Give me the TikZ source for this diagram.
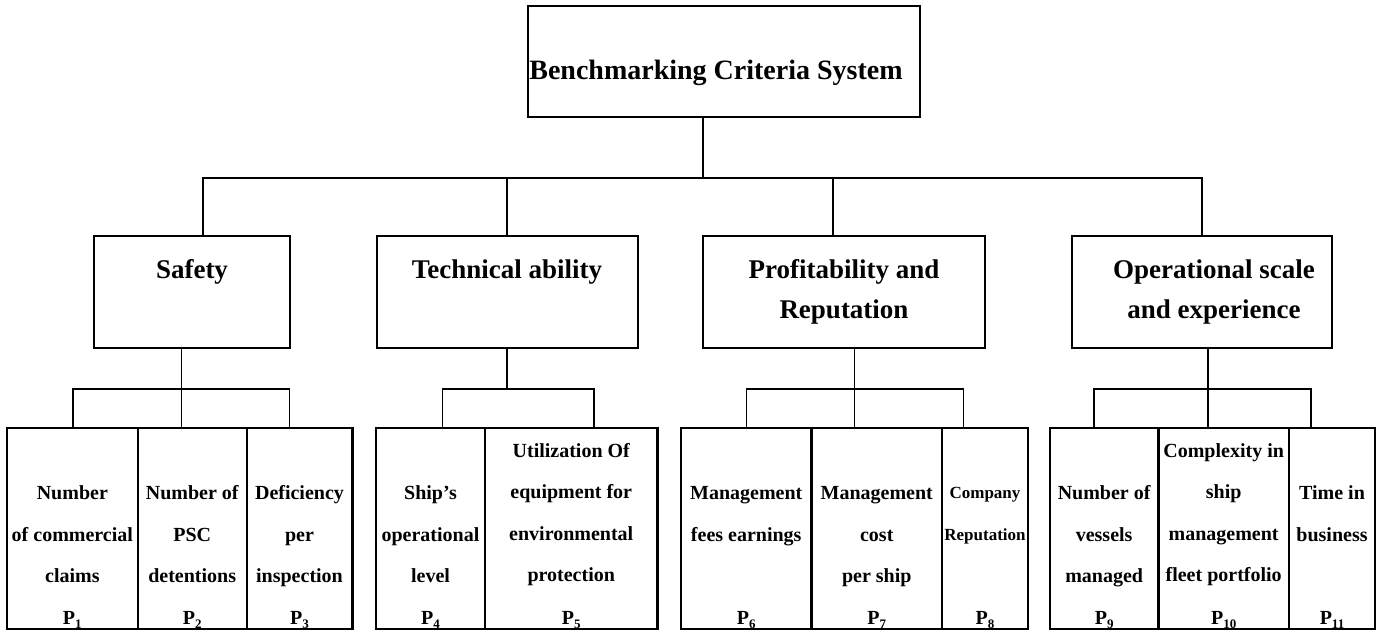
\documentclass[tikz,border=0pt]{standalone}
\usepackage{fontspec}
\setmainfont{Liberation Serif}
% stacked lines, the first line's baseline is the node's base
\newcommand{\lines}[1]{\begin{tabular}[t]{@{}c@{}}#1\end{tabular}}
% criterion label P with a lowered index
\newcommand{\pidx}[1]{P\raisebox{-0.22em}{\fontsize{13}{13}\selectfont #1}}
\begin{document}
\begin{tikzpicture}[x=1pt,y=-1pt,
  box/.style={draw, line width=2pt, inner sep=0pt, outer sep=0pt, anchor=north west},
  cell/.style={draw, line width=2.4pt, inner sep=0pt, outer sep=0pt, anchor=north west, minimum height=201pt},
  wire/.style={line width=1.8pt},
  txt/.style={inner sep=0pt, anchor=base},
  roottxt/.style={txt, font=\bfseries\fontsize{28}{34}\selectfont},
  subtxt/.style={txt, font=\bfseries\fontsize{27}{40}\selectfont},
  leaftxt/.style={txt, font=\bfseries\fontsize{20}{41.5}\selectfont},
  smalltxt/.style={txt, font=\bfseries\fontsize{17}{41.7}\selectfont}]
\useasboundingbox (0,0) rectangle (1382,630);

% top level
\node[box, minimum width=392pt, minimum height=111.6pt] (root) at (528,5.7) {};
\node[roottxt] (rootlabel) at (716,79) {Benchmarking Criteria System};

% criteria groups
\node[box, minimum width=196pt,   minimum height=111.5pt] (safety) at (94,236) {};
\node[box, minimum width=260.5pt, minimum height=111.5pt] (tech)   at (377,236) {};
\node[box, minimum width=282.5pt, minimum height=111.5pt] (prof)   at (702.5,236) {};
\node[box, minimum width=260pt,   minimum height=111.5pt] (oper)   at (1072,236) {};
\node[subtxt] (safetylabel) at (192,278) {Safety};
\node[subtxt] (techlabel)   at (507,278) {Technical ability};
\node[subtxt] (proflabel)   at (844,278) {\lines{Profitability and\\Reputation}};
\node[subtxt] (operlabel)   at (1214,278) {\lines{Operational scale\\and experience}};

% sub-criteria cells
\node[cell, minimum width=130.7pt] (p1)  at (7,428) {};
\node[cell, minimum width=109pt]   (p2)  at (137.7,428) {};
\node[cell, minimum width=105.6pt] (p3)  at (246.7,428) {};
\node[cell, minimum width=109pt]   (p4)  at (376,428) {};
\node[cell, minimum width=172.5pt] (p5)  at (485,428) {};
\node[cell, minimum width=130.5pt] (p6)  at (681,428) {};
\node[cell, minimum width=130.5pt] (p7)  at (811.5,428) {};
\node[cell, minimum width=86pt]    (p8)  at (942,428) {};
\node[cell, minimum width=108.3pt] (p9)  at (1050,428) {};
\node[cell, minimum width=130.7pt] (p10) at (1158.3,428) {};
\node[cell, minimum width=86pt]    (p11) at (1289,428) {};

\node[leaftxt] (t1)  at (p1.center  |- 0,499.5) {\lines{Number\\of commercial\\claims}};
\node[leaftxt] (t2)  at (p2.center  |- 0,499.5) {\lines{Number of\\PSC\\detentions}};
\node[leaftxt] (t3)  at (p3.center  |- 0,499.5) {\lines{Deficiency\\per\\inspection}};
\node[leaftxt] (t4)  at (p4.center  |- 0,499.5) {\lines{Ship’s\\operational\\level}};
\node[leaftxt] (t5)  at (p5.center  |- 0,457)   {\lines{Utilization Of\\equipment for\\environmental\\protection}};
\node[leaftxt] (t6)  at (p6.center  |- 0,499.5) {\lines{Management\\fees earnings}};
\node[leaftxt] (t7)  at (p7.center  |- 0,499.5) {\lines{Management\\cost\\per ship}};
\node[smalltxt] (t8) at (p8.center  |- 0,498.5) {\lines{Company\\Reputation}};
\node[leaftxt] (t9)  at (p9.center  |- 0,499.5) {\lines{Number of\\vessels\\managed}};
\node[leaftxt] (t10) at (p10.center |- 0,457)   {\lines{Complexity in\\ship\\management\\fleet portfolio}};
\node[leaftxt] (t11) at (p11.center |- 0,499.5) {\lines{Time in\\business}};

\foreach \i in {1,...,11}
  \node[leaftxt] (idx\i) at (p\i.center |- 0,624) {\pidx{\i}};

% root to groups
\coordinate (busL) at (203,178);
\coordinate (busR) at (1202,178);
\coordinate (rootjoin) at (703,178);
\coordinate (techjoin) at (507,178);
\coordinate (profjoin) at (833,178);
\draw[wire] (root.south -| rootjoin) -- (rootjoin);
\draw[wire] (safety.north -| busL) -- (busL) -- (busR) -- (oper.north -| busR);
\draw[wire] (techjoin) -- (tech.north -| techjoin);
\draw[wire] (profjoin) -- (prof.north -| profjoin);

% groups to cells
\coordinate (g1a) at (73,389);    \coordinate (g1s) at (181.5,389);  \coordinate (g1c) at (289.5,389);
\coordinate (g2a) at (442.5,389); \coordinate (g2s) at (507,389);    \coordinate (g2c) at (594,389);
\coordinate (g3a) at (746.5,389); \coordinate (g3s) at (854.5,389);  \coordinate (g3c) at (963.5,389);
\coordinate (g4a) at (1094.3,389);\coordinate (g4s) at (1208.3,389); \coordinate (g4c) at (1311,389);

\draw[wire] (p1.north -| g1a) -- (g1a) -- (g1c) -- (p3.north -| g1c);
\draw[wire] (safety.south -| g1s) -- (p2.north -| g1s);
\draw[wire] (p4.north -| g2a) -- (g2a) -- (g2c) -- (p5.north -| g2c);
\draw[wire] (tech.south -| g2s) -- (g2s);
\draw[wire] (p6.north -| g3a) -- (g3a) -- (g3c) -- (p8.north -| g3c);
\draw[wire] (prof.south -| g3s) -- (p7.north -| g3s);
\draw[wire] (p9.north -| g4a) -- (g4a) -- (g4c) -- (p11.north -| g4c);
\draw[wire] (oper.south -| g4s) -- (p10.north -| g4s);
\end{tikzpicture}
\end{document}
